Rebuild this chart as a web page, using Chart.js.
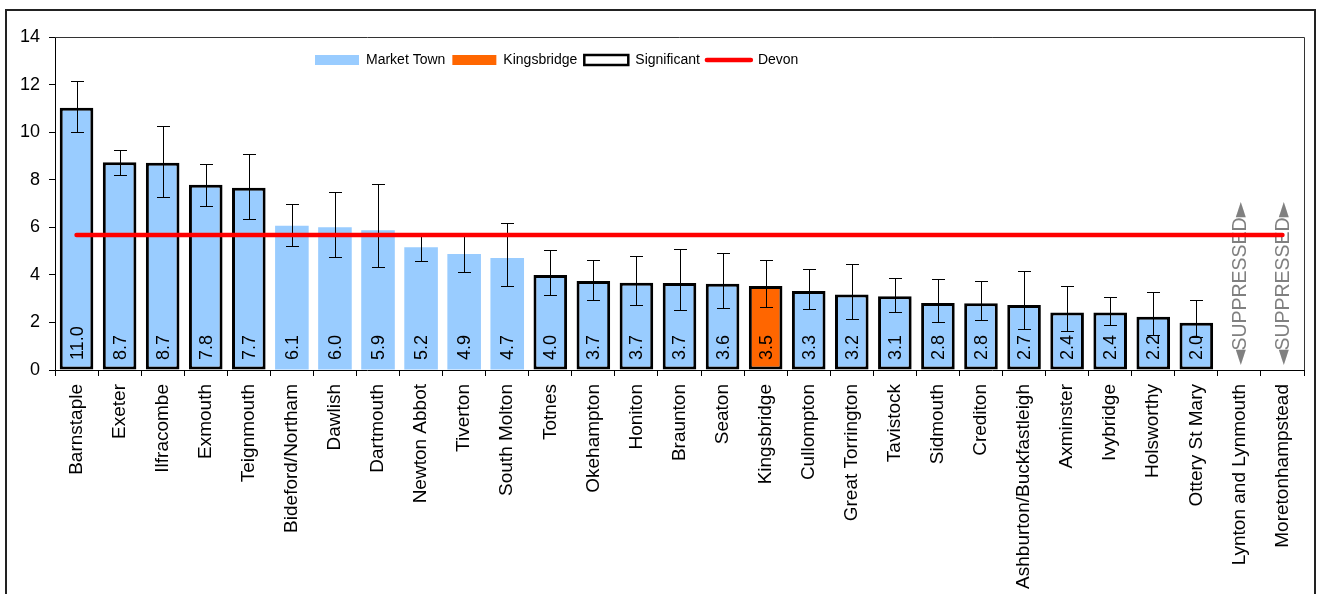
<!DOCTYPE html>
<html>
<head>
<meta charset="utf-8">
<title>Market towns</title>
<script src="https://cdn.jsdelivr.net/npm/chart.js@4"></script>
<style>
    body { margin: 0; background: #ffffff; }
    #frame {
        position: absolute;
        left: 5px;
        top: 9px;
        width: 1307px;
        height: 700px;
        border: 2px solid #222222;
    }
    #chartCanvas { position: absolute; left: 0; top: 0; }
</style>
</head>
<body>
<div id="frame"></div>
<canvas id="chartCanvas" width="1319" height="594"></canvas>
<script>
// Chart data
const towns = ['Barnstaple', 'Exeter', 'Ilfracombe', 'Exmouth', 'Teignmouth', 'Bideford/Northam',
    'Dawlish', 'Dartmouth', 'Newton Abbot', 'Tiverton', 'South Molton', 'Totnes', 'Okehampton',
    'Honiton', 'Braunton', 'Seaton', 'Kingsbridge', 'Cullompton', 'Great Torrington', 'Tavistock',
    'Sidmouth', 'Crediton', 'Ashburton/Buckfastleigh', 'Axminster', 'Ivybridge', 'Holsworthy',
    'Ottery St Mary', 'Lynton and Lynmouth', 'Moretonhampstead'];
const rates = [11.03, 8.73, 8.71, 7.79, 7.66, 6.06, 6.0, 5.88, 5.16, 4.88, 4.71, 3.99, 3.74,
    3.67, 3.66, 3.63, 3.53, 3.32, 3.17, 3.10, 2.82, 2.81, 2.73, 2.42, 2.42, 2.24, 1.99, null, null];
const ciLow = [9.99, 8.20, 7.29, 6.91, 6.36, 5.23, 4.76, 4.32, 4.57, 4.13, 3.53, 3.15, 2.96,
    2.73, 2.52, 2.61, 2.64, 2.55, 2.16, 2.42, 2.03, 2.09, 1.71, 1.63, 1.91, 1.47, 1.40, null, null];
const ciHigh = [12.13, 9.26, 10.27, 8.67, 9.09, 6.99, 7.47, 7.80, 5.77, 5.70, 6.18, 5.03, 4.62,
    4.78, 5.09, 4.93, 4.61, 4.26, 4.47, 3.87, 3.81, 3.74, 4.17, 3.52, 3.07, 3.29, 2.94, null, null];
const significant = [1, 1, 1, 1, 1, 0, 0, 0, 0, 0, 0, 1, 1, 1, 1, 1, 1, 1, 1, 1, 1, 1, 1, 1, 1,
    1, 1, 0, 0];
const devonRate = 5.68;
const highlightTown = 'Kingsbridge';
const yTicks = [0, 2, 4, 6, 8, 10, 12, 14];

const FONT = "'Liberation Sans', Arial, sans-serif";
const BLUE = '#99CCFF';
const ORANGE = '#FF6600';
const RED = '#FF0000';

let townChart = null;

// Values written inside the bars, plus SUPPRESSED notes
const barLabelPlugin = {
    id: 'barLabels',
    afterDatasetDraw(chart, args) {
        if (args.index !== 0) return;
        const { ctx, scales: { x, y } } = chart;
        const base = y.getPixelForValue(0);
        ctx.save();
        ctx.textAlign = 'left';
        ctx.textBaseline = 'middle';
        towns.forEach((town, i) => {
            const px = x.getPixelForValue(i);
            ctx.save();
            ctx.translate(px, base - 10);
            ctx.rotate(-Math.PI / 2);
            if (rates[i] === null) {
                // arrow, word, arrow
                ctx.fillStyle = '#808080';
                let pos = -5;
                ctx.font = '20px DejaVu Sans, sans-serif';
                ctx.fillText('\u25C4', pos, 1);
                pos += ctx.measureText('\u25C4').width - 1;
                ctx.font = '19.5px ' + FONT;
                ctx.fillText('SUPPRESSED', pos, 1);
                pos += ctx.measureText('SUPPRESSED').width;
                ctx.font = '20px DejaVu Sans, sans-serif';
                ctx.fillText('\u25BA', pos, 1);
            } else {
                ctx.font = '18px ' + FONT;
                ctx.fillStyle = '#000000';
                ctx.fillText(rates[i].toFixed(1), 0, 1);
            }
            ctx.restore();
        });
        ctx.restore();
    }
};

// Confidence interval whiskers
const errorBarPlugin = {
    id: 'errorBars',
    afterDatasetDraw(chart, args) {
        if (args.index !== 0) return;
        const { ctx, scales: { x, y } } = chart;
        ctx.save();
        ctx.strokeStyle = '#000000';
        ctx.lineWidth = 1;
        towns.forEach((town, i) => {
            if (ciLow[i] === null) return;
            const px = Math.round(x.getPixelForValue(i)) + 0.5;
            const top = Math.round(y.getPixelForValue(ciHigh[i])) + 0.5;
            const bottom = Math.round(y.getPixelForValue(ciLow[i])) + 0.5;
            ctx.beginPath();
            ctx.moveTo(px, top);
            ctx.lineTo(px, bottom);
            ctx.moveTo(px - 6.5, top);
            ctx.lineTo(px + 6.5, top);
            ctx.moveTo(px - 6.5, bottom);
            ctx.lineTo(px + 6.5, bottom);
            ctx.stroke();
        });
        ctx.restore();
    }
};

// Plot area frame and legend placed inside the plot area
const frameLegendPlugin = {
    id: 'frameLegend',
    beforeLayout(chart) {
        const legend = chart.legend;
        if (legend && !legend._inside) {
            legend._inside = true;
            const fit = legend.fit;
            legend.fit = function () {
                fit.call(this);
                this.height = 0;
            };
        }
    },
    afterLayout(chart) {
        const legend = chart.legend;
        const area = chart.chartArea;
        legend.left = area.left + 253;
        legend.right = legend.left + 600;
        legend.top = area.top + 9;
        legend.bottom = legend.top + 40;
        legend.width = 600;
        legend.height = 40;
    },
    beforeDatasetsDraw(chart) {
        const { ctx, chartArea: a } = chart;
        ctx.save();
        ctx.strokeStyle = '#333333';
        ctx.lineWidth = 1;
        ctx.beginPath();
        ctx.moveTo(a.left, Math.round(a.top) + 0.5);
        ctx.lineTo(Math.round(a.right) + 0.5, Math.round(a.top) + 0.5);
        ctx.lineTo(Math.round(a.right) + 0.5, a.bottom);
        ctx.stroke();
        ctx.restore();
    }
};

// Create bar chart
function createTownChart() {
    const ctx = document.getElementById('chartCanvas').getContext('2d');

    if (townChart) {
        townChart.destroy();
    }

    townChart = new Chart(ctx, {
        type: 'bar',
        data: {
            labels: towns,
            datasets: [
                {
                    label: 'Market Town',
                    data: rates,
                    backgroundColor: towns.map(t => t === highlightTown ? ORANGE : BLUE),
                    borderColor: '#000000',
                    borderWidth: significant.map(s => s ? 3 : 0),
                    borderSkipped: false,
                    categoryPercentage: 1,
                    barPercentage: 0.78,
                    order: 2
                },
                {
                    type: 'line',
                    label: 'Devon',
                    data: towns.map(() => devonRate),
                    borderColor: RED,
                    backgroundColor: RED,
                    borderWidth: 4.5,
                    borderCapStyle: 'round',
                    pointRadius: 0,
                    fill: false,
                    order: 1
                }
            ]
        },
        options: {
            responsive: false,
            animation: false,
            layout: {
                padding: { left: 0, top: 37, right: 15, bottom: 0 }
            },
            plugins: {
                tooltip: { enabled: false },
                legend: {
                    display: true,
                    position: 'top',
                    align: 'start',
                    labels: {
                        usePointStyle: true,
                        pointStyleWidth: 44,
                        boxHeight: 10,
                        padding: 7,
                        color: '#000000',
                        font: { family: FONT, size: 14 },
                        generateLabels: () => [
                            { text: 'Market Town', fillStyle: BLUE, strokeStyle: BLUE, lineWidth: 0, pointStyle: 'rect', hidden: false },
                            { text: 'Kingsbridge', fillStyle: ORANGE, strokeStyle: ORANGE, lineWidth: 0, pointStyle: 'rect', hidden: false },
                            { text: 'Significant', fillStyle: '#FFFFFF', strokeStyle: '#000000', lineWidth: 2.5, pointStyle: 'rect', hidden: false },
                            { text: 'Devon', fillStyle: RED, strokeStyle: RED, lineWidth: 4.5, lineCap: 'round', pointStyle: 'line', hidden: false }
                        ]
                    }
                }
            },
            scales: {
                x: {
                    afterFit: scale => { scale.height = 224; },
                    ticks: {
                        autoSkip: false,
                        maxRotation: 90,
                        minRotation: 90,
                        padding: 8,
                        color: '#000000',
                        font: { family: FONT, size: 19 }
                    },
                    grid: {
                        offset: true,
                        drawOnChartArea: false,
                        tickLength: 6,
                        color: '#000000'
                    },
                    border: { color: '#000000', width: 1 }
                },
                y: {
                    min: yTicks[0],
                    max: yTicks[yTicks.length - 1],
                    afterFit: scale => { scale.width = 55; },
                    afterBuildTicks: scale => { scale.ticks = yTicks.map(v => ({ value: v })); },
                    ticks: {
                        padding: 9,
                        color: '#000000',
                        font: { family: FONT, size: 18 }
                    },
                    grid: {
                        drawOnChartArea: false,
                        tickLength: 6,
                        color: '#000000'
                    },
                    border: { color: '#000000', width: 1 }
                }
            }
        },
        plugins: [frameLegendPlugin, barLabelPlugin, errorBarPlugin]
    });
}

// Initialize on page load
document.addEventListener('DOMContentLoaded', createTownChart);
</script>
</body>
</html>
